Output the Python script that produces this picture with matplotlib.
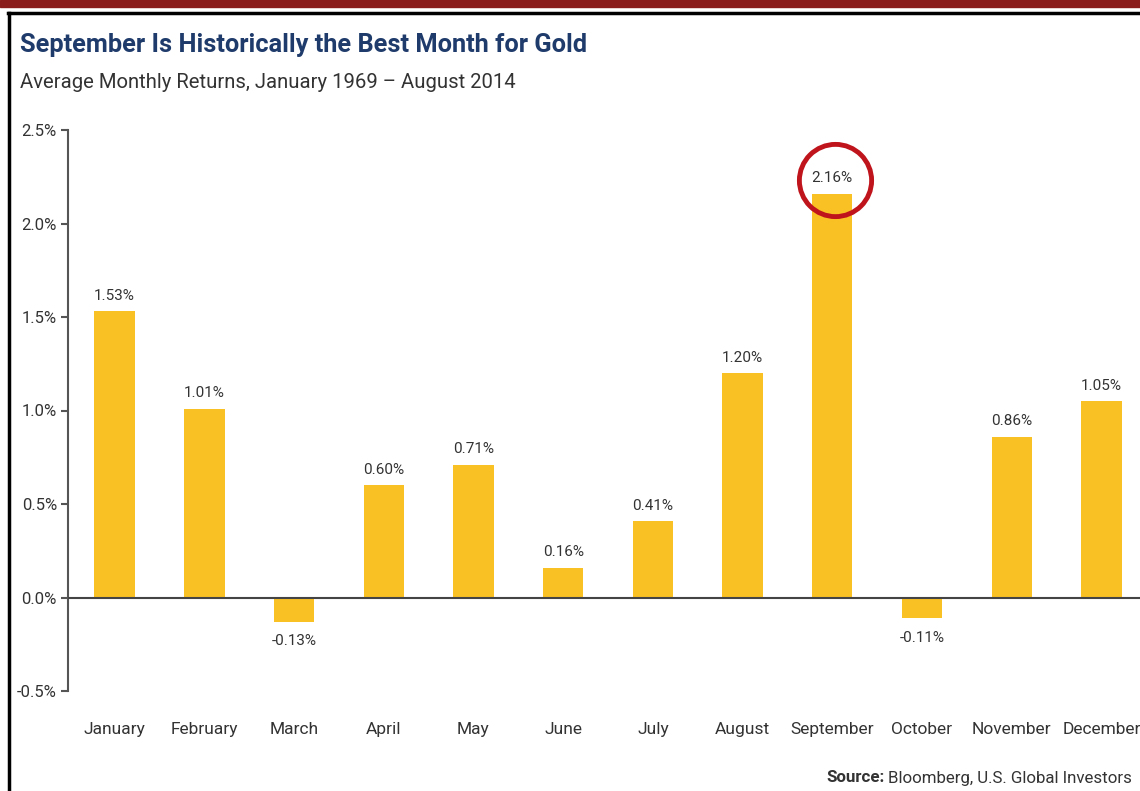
import matplotlib
matplotlib.use("Agg")
import matplotlib.pyplot as plt
from matplotlib.lines import Line2D
from matplotlib.patches import Rectangle
from matplotlib.transforms import ScaledTranslation

months = ["January", "February", "March", "April", "May", "June", "July",
          "August", "September", "October", "November", "December"]
returns = [1.53, 1.01, -0.13, 0.60, 0.71, 0.16, 0.41, 1.20, 2.16, -0.11, 0.86, 1.05]
yticks = [-0.5, 0.0, 0.5, 1.0, 1.5, 2.0, 2.5]
highlight = "September"

plt.rcParams['font.family'] = ["Roboto", "DejaVu Sans"]

fig = plt.figure(figsize=(11.4, 7.91), dpi=100)
W, H = 1140, 791

# decorative frame
fig.patches.append(Rectangle((0, 1 - 7 / H), 1, 7 / H, transform=fig.transFigure,
                             color="#8a1c1c", zorder=0))
fig.lines.append(Line2D([8 / W, 1], [1 - 13 / H, 1 - 13 / H], transform=fig.transFigure,
                        color="black", lw=2.5))
fig.lines.append(Line2D([9 / W, 9 / W], [0, 1 - 13 / H], transform=fig.transFigure,
                        color="black", lw=2.5))

ax = fig.add_axes([68 / W, 100 / H, 1 - 68 / W, (691 - 130) / H])
x = list(range(len(months)))
ax.bar(x, returns, width=0.45, color="#f9c124", zorder=2)
ax.axhline(0, color="#444444", lw=1.5, zorder=3)

ax.set_xlim(-0.52, 11.43)
ax.set_ylim(-0.5, 2.5)
ax.set_yticks(yticks)
ax.set_yticklabels([f"{v:.1f}%" for v in yticks], fontsize=12, color="#333333")
ax.set_xticks(x)
ax.set_xticklabels(months, fontsize=12.5, color="#333333")
ax.tick_params(axis="x", length=0, pad=22)
ax.tick_params(axis="y", length=5, width=1.5, color="#555555", pad=3)
for s in ["top", "right", "bottom"]:
    ax.spines[s].set_visible(False)
ax.spines["left"].set_color("#555555")
ax.spines["left"].set_linewidth(1.5)

for xi, v in zip(x, returns):
    off = 11 if v >= 0 else -14
    ax.annotate(f"{v:.2f}%", (xi, v), xytext=(0, off), textcoords="offset points",
                ha="center", va="center", fontsize=11, color="#333333")

hi = months.index(highlight)
ax.plot([hi + 0.03], [returns[hi]], marker="o", markersize=52, markerfacecolor="none",
        markeredgecolor="#c0141c", markeredgewidth=3.5, clip_on=False, zorder=4,
        transform=ax.transData + ScaledTranslation(0, 10 / 72, fig.dpi_scale_trans))

fig.text(20 / W, 1 - 45 / H, "September Is Historically the Best Month for Gold",
         fontsize=18.3, fontweight="bold", color="#1f3b6b", va="center", ha="left")
fig.text(20 / W, 1 - 82 / H, "Average Monthly Returns, January 1969 \u2013 August 2014",
         fontsize=14.6, color="#333333", va="center", ha="left")

t1 = fig.text(826 / W, 1 - 778 / H, "Source:", fontsize=12.2, fontweight="bold",
              color="#333333", ha="left", va="center")
fig.canvas.draw()
bb = t1.get_window_extent()
fig.text((bb.x1 + 4) / W, 1 - 778 / H, "Bloomberg, U.S. Global Investors", fontsize=12.2,
         color="#333333", ha="left", va="center")

fig.savefig("out.png", dpi=100)
